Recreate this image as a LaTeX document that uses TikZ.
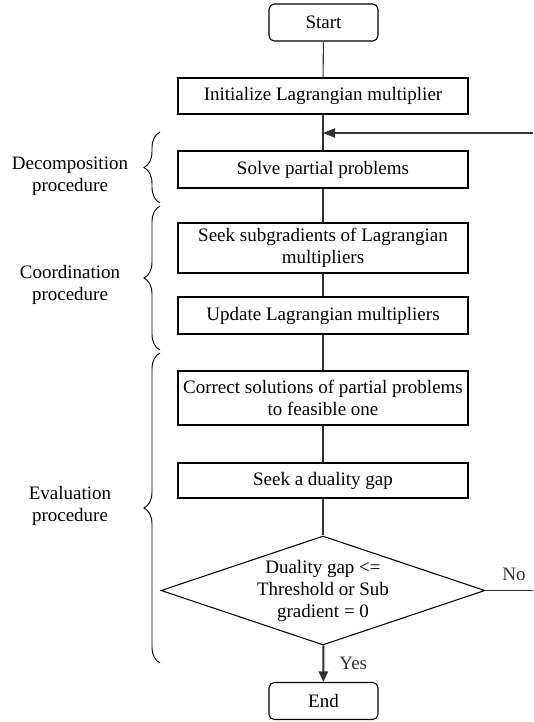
\documentclass[tikz,border=0pt]{standalone}
\usepackage{fontspec}
\setmainfont{Liberation Serif}
\usetikzlibrary{arrows.meta,shapes.geometric,decorations.pathreplacing}

\tikzset{
    txt/.style={font=\fontsize{14.25}{16.5}\selectfont, align=center},
    proc/.style={txt, draw, rectangle, line width=0.8pt, minimum width=217.5pt, inner sep=2pt},
    term/.style={proc, rounded corners=4pt, minimum width=81.75pt, minimum height=27.75pt},
    link/.style={line width=0.8pt, black!80},
    grp/.style={decorate, decoration={brace, amplitude=12pt}, line width=0.7pt},
}

\begin{document}
\begin{tikzpicture}[x=0.75pt, y=-0.75pt]
        \useasboundingbox (0,0) rectangle (533,722);

        \node[term] (start) at (323.5, 22.5) {Start};
        \node[proc, minimum height=27pt] (init) at (323, 96) {Initialize Lagrangian multiplier};
        \node[proc, minimum height=27.75pt] (solve) at (323, 169.5) {Solve partial problems};
        \node[proc, minimum height=37.5pt] (seek) at (323, 248) {Seek subgradients of Lagrangian\\multipliers};
        \node[proc, minimum height=27.75pt] (update) at (323, 315.5) {Update Lagrangian multipliers};
        \node[proc, minimum height=40.5pt] (correct) at (323, 398) {Correct solutions of partial problems\\to feasible one};
        \node[proc, minimum height=26.25pt] (gap) at (323, 480.5) {Seek a duality gap};
        \node[txt, draw, diamond, line width=0.8pt, aspect=3, inner sep=0pt,
              minimum width=243pt, minimum height=81.75pt] (check) at (323, 590.5)
              {Duality gap <=\\Threshold or Sub\\gradient = 0};
        \node[term] (end) at (323.5, 701) {End};

        \coordinate (noOut) at (533, 590.5);
        \coordinate (loopIn) at (533, 133);

        \draw[link] (start) -- (init);
        \draw[link] (init) -- (solve);
        \draw[link] (solve) -- (seek);
        \draw[link] (seek) -- (update);
        \draw[link] (update) -- (correct);
        \draw[link] (correct) -- (gap);
        \draw[link] (gap) -- (check);
        \draw[link, line width=1.5pt, -{Triangle[length=8pt, width=7pt]}] (check) -- node[txt, right=8pt] {Yes} (end);
        \draw[link] (check.east) -- node[txt, above=4pt, pos=0.6] {No} (noOut);
        \draw[link, -{Triangle[length=9pt, width=7pt]}] (loopIn) -- (loopIn -| init.south);

        % procedure braces
        \draw[grp] (160, 203) -- (160, 132);
        \draw[grp] (160, 350) -- (160, 206);
        \draw[grp] (160, 663) -- (160, 353);
        \node[txt] (decomp) at (70, 176) {Decomposition\\procedure};
        \node[txt] (coord) at (70, 285) {Coordination\\procedure};
        \node[txt] (eval) at (70, 506) {Evaluation\\procedure};
\end{tikzpicture}
\end{document}
